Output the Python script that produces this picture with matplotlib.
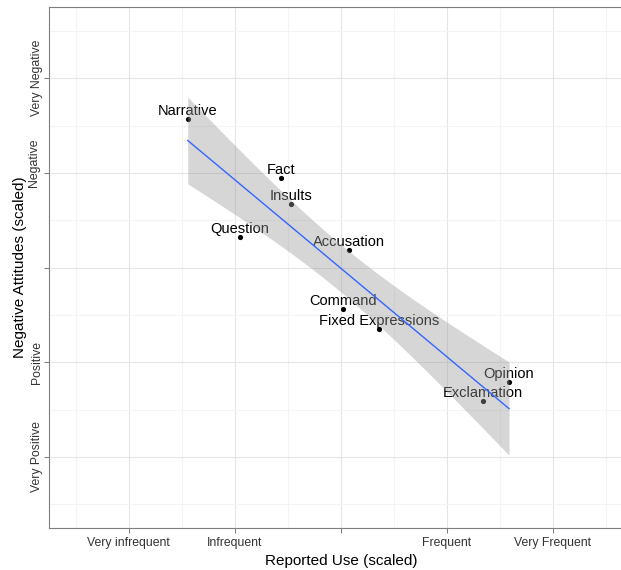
import numpy as np
import matplotlib
matplotlib.use("Agg")
import matplotlib.pyplot as plt
from matplotlib.transforms import ScaledTranslation

plt.rcParams['font.family'] = ['Liberation Sans', 'DejaVu Sans']

# ---- data (scaled values) ----
categories = ["Narrative", "Fact", "Insults", "Question", "Accusation",
              "Command", "Fixed Expressions", "Opinion", "Exclamation"]
reported_use = [-1.444, -0.564, -0.467, -0.951, 0.075, 0.024, 0.363, 1.587, 1.339]
neg_attitude = [1.569, 0.943, 0.668, 0.323, 0.183, -0.440, -0.648, -1.205, -1.412]

tick_vals = [-2, -1, 0, 1, 2]
x_tick_labels = ["Very infrequent", "Infrequent", "", "Frequent", "Very Frequent"]
y_tick_labels = ["Very Positive", "Positive", "", "Negative", "Very Negative"]
minor_vals = [-2.5, -1.5, -0.5, 0.5, 1.5, 2.5]

# ---- figure ----
W, H = 621, 570
fig = plt.figure(figsize=(W / 100, H / 100), dpi=100)
ax = fig.add_axes([49.3 / W, 42 / H, 583 / W, 520.7 / H])

x = np.array(reported_use)
y = np.array(neg_attitude)

# points
ax.scatter(x, y, s=14, color="black", zorder=2, linewidths=0)

# labels
for name, xi, yi in zip(categories, x, y):
    ax.annotate(name, (xi, yi), xytext=(0, 4), textcoords="offset pixels",
                ha="center", va="baseline", fontsize=10.5, color="black", zorder=3)

# linear fit with confidence band
n = len(x)
slope, intercept = np.polyfit(x, y, 1)
resid = y - (slope * x + intercept)
s = np.sqrt(np.sum(resid ** 2) / (n - 2))
xm = x.mean()
sxx = np.sum((x - xm) ** 2)
xs = np.linspace(x.min(), x.max(), 100)
ys = slope * xs + intercept
se = s * np.sqrt(1 / n + (xs - xm) ** 2 / sxx)
ax.fill_between(xs, ys - 1.96 * se, ys + 1.96 * se, color="#999999", alpha=0.4,
                linewidth=0, zorder=4)
ax.plot(xs, ys, color="#3366FF", lw=1.0, zorder=5)

# axes
ax.set_xlim(-2.75, 2.75)
ax.set_ylim(-2.75, 2.75)
ax.set_xticks(tick_vals)
ax.set_xticklabels(x_tick_labels)
ax.set_yticks(tick_vals)
ax.set_yticklabels(y_tick_labels, rotation=90, va="center")
ax.set_xticks(minor_vals, minor=True)
ax.set_yticks(minor_vals, minor=True)
ax.set_axisbelow(True)
ax.grid(which="major", color="#E5E5E5", lw=0.8, zorder=0)
ax.grid(which="minor", color="#F4F4F4", lw=0.8, zorder=0)
ax.tick_params(which="major", length=3.8, width=0.75, color="#7F7F7F",
               labelsize=8.8, labelcolor="#333333")
ax.tick_params(axis="x", which="major", pad=3)
ax.tick_params(axis="y", which="major", pad=0.6)
ax.tick_params(which="minor", length=0)
for sp in ax.spines.values():
    sp.set_color("#7F7F7F")
    sp.set_linewidth(0.8)

# the "Negative" label sits slightly off its tick in the original
lab = ax.get_yticklabels()[3]
lab.set_transform(lab.get_transform() + ScaledTranslation(-0.035, 0.10, fig.dpi_scale_trans))

ax.set_xlabel("Reported Use (scaled)", fontsize=11, labelpad=3)
ax.set_ylabel("Negative Attitudes (scaled)", fontsize=11, labelpad=0.5)

fig.savefig("out.png", dpi=100)
